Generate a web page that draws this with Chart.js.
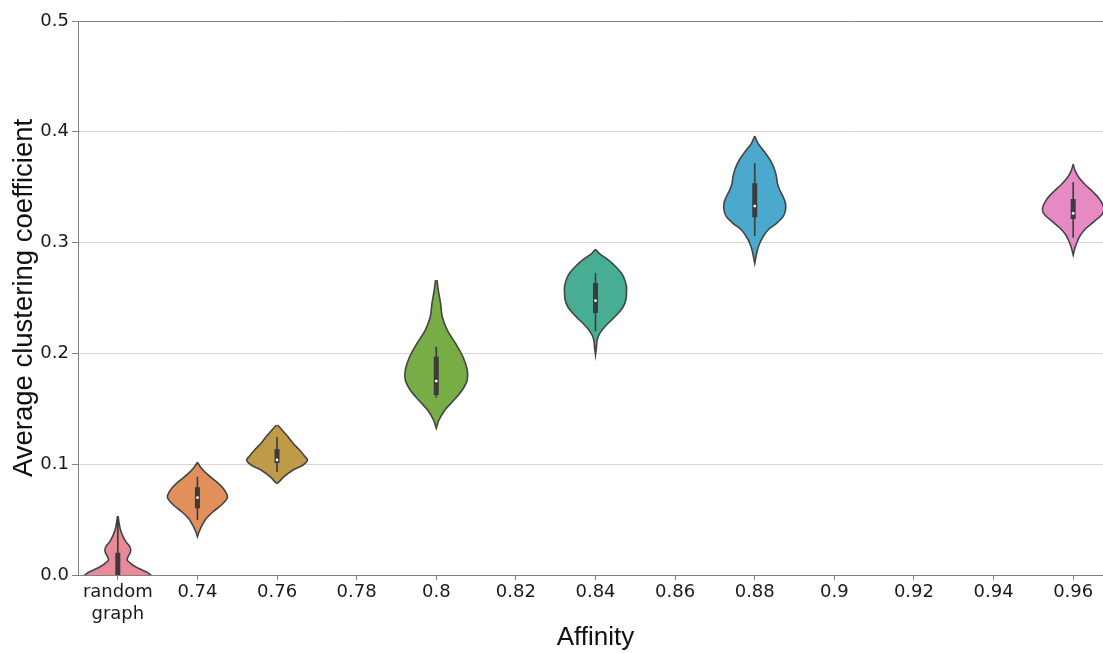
<!DOCTYPE html>
<html>
<head>
<meta charset="utf-8">
<title>Average clustering coefficient by affinity</title>
<script src="https://cdn.jsdelivr.net/npm/chart.js@4.4.1/dist/chart.umd.min.js"></script>
<style>
  html, body { margin: 0; padding: 0; background: #fff; overflow: hidden; }
  #wrap { width: 1120px; height: 653px; }
</style>
</head>
<body>
<div id="wrap"><canvas id="violinChart" width="1120" height="653"></canvas></div>
<script>
// x categories, the first one is the random graph baseline
const categories = [["random", "graph"], "0.74", "0.76", "0.78", "0.8", "0.82", "0.84", "0.86", "0.88", "0.9", "0.92", "0.94", "0.96"];
const yTicks = [0, 0.1, 0.2, 0.3, 0.4, 0.5];

// category slot of each violin + its fill colour
const violinSlots = [0, 1, 2, 4, 6, 8, 12];
const violinColors = ["#e88a98", "#e1905c", "#bf9b48", "#78ac44", "#47ae93", "#4ba9cd", "#e68ac3"];

// violin outlines, top to bottom: [value, half width in category units]
const profileRandom = [[0.0532, 0.004], [0.0467, 0.016], [0.0406, 0.034], [0.0346, 0.067], [0.0301, 0.100],
  [0.0255, 0.151], [0.0210, 0.160], [0.0165, 0.129], [0.0135, 0.117], [0.0106, 0.160], [0.0075, 0.222],
  [0.0045, 0.305], [0.0015, 0.389], [-0.003, 0.452], [-0.010, 0.490], [-0.020, 0.500]];
const profile074 = [[0.1017, 0], [0.0963, 0.050], [0.0903, 0.134], [0.0842, 0.239], [0.0782, 0.323],
  [0.0722, 0.373], [0.0692, 0.373], [0.0632, 0.302], [0.0571, 0.197], [0.0512, 0.113], [0.0451, 0.059],
  [0.0391, 0.021], [0.0346, 0]];
const profile076 = [[0.1354, 0.006], [0.1309, 0.063], [0.1248, 0.138], [0.1189, 0.201], [0.1128, 0.283],
  [0.1068, 0.352], [0.1038, 0.383], [0.0993, 0.327], [0.0948, 0.201], [0.0887, 0.088], [0.0828, 0.006]];
const profile080 = [[0.2662, 0.009], [0.2572, 0.025], [0.2452, 0.054], [0.2331, 0.075], [0.2211, 0.138],
  [0.2091, 0.242], [0.1970, 0.335], [0.1850, 0.389], [0.1760, 0.389], [0.1670, 0.327], [0.1579, 0.222],
  [0.1489, 0.109], [0.1399, 0.034], [0.1324, 0]];
const profile084 = [[0.2940, 0], [0.2903, 0.046], [0.2843, 0.160], [0.2782, 0.255], [0.2723, 0.327],
  [0.2662, 0.368], [0.2602, 0.389], [0.2542, 0.389], [0.2482, 0.381], [0.2421, 0.348], [0.2362, 0.285],
  [0.2301, 0.201], [0.2241, 0.117], [0.2181, 0.054], [0.2121, 0.021], [0.2061, 0.013], [0.1986, 0]];
const profile088 = [[0.3962, 0], [0.3896, 0.041], [0.3836, 0.104], [0.3775, 0.167], [0.3716, 0.217],
  [0.3655, 0.251], [0.3595, 0.273], [0.3535, 0.285], [0.3475, 0.314], [0.3414, 0.356], [0.3355, 0.386],
  [0.3294, 0.386], [0.3234, 0.356], [0.3174, 0.273], [0.3114, 0.167], [0.3053, 0.104], [0.2994, 0.063],
  [0.2933, 0.034], [0.2873, 0.016], [0.2813, 0]];
const profile096 = [[0.3707, 0], [0.3640, 0.029], [0.3580, 0.079], [0.3520, 0.155], [0.3459, 0.247],
  [0.3400, 0.323], [0.3339, 0.373], [0.3294, 0.386], [0.3249, 0.356], [0.3189, 0.260], [0.3129, 0.163],
  [0.3069, 0.092], [0.3008, 0.050], [0.2949, 0.021], [0.2888, 0]];
const profiles = [profileRandom, profile074, profile076, profile080, profile084, profile088, profile096];

// inner box plot per violin
const whiskerLow  = [0.000, 0.0496, 0.093, 0.160, 0.220, 0.306, 0.3044];
const quartile1   = [0.000, 0.0602, 0.101, 0.1625, 0.2365, 0.3228, 0.3213];
const medians     = [null, 0.0698, 0.1038, 0.175, 0.2476, 0.333, 0.3264];
const quartile3   = [0.020, 0.0792, 0.1137, 0.197, 0.2635, 0.3535, 0.3394];
const whiskerHigh = [0.049, 0.0887, 0.1245, 0.206, 0.2725, 0.3716, 0.3544];

(function(){
  const ctx = document.getElementById("violinChart");
  const edge = "#444444";
  const axisGrey = "#808080";

  function outline(slot, profile) {
    const right = profile.map(p => ({ x: slot + p[1], y: p[0] }));
    const left = profile.slice().reverse().map(p => ({ x: slot - p[1], y: p[0] }));
    return right.concat(left);
  }

  function vertical(lo, hi) {
    const pts = [];
    violinSlots.forEach((slot, i) => {
      pts.push({ x: slot, y: lo[i] }, { x: slot, y: hi[i] }, { x: slot, y: null });
    });
    return pts;
  }

  const datasets = [];

  datasets.push({
    label: "median",
    data: violinSlots.map((slot, i) => ({ x: slot, y: medians[i] })),
    showLine: false,
    pointRadius: 1.4,
    pointBackgroundColor: "#ffffff",
    pointBorderWidth: 0,
    order: 0
  });

  datasets.push({
    label: "iqr",
    data: vertical(quartile1, quartile3),
    borderColor: "#3b3b3b",
    borderWidth: 5,
    pointRadius: 0,
    spanGaps: false,
    clip: 0,
    order: 1
  });

  datasets.push({
    label: "whisker",
    data: vertical(whiskerLow, whiskerHigh),
    borderColor: "#3b3b3b",
    borderWidth: 1.6,
    pointRadius: 0,
    spanGaps: false,
    order: 2
  });

  profiles.forEach((profile, i) => {
    datasets.push({
      label: "violin " + i,
      data: outline(violinSlots[i], profile),
      borderColor: edge,
      borderWidth: 1.6,
      backgroundColor: violinColors[i],
      fill: "shape",
      tension: 0.3,
      pointRadius: 0,
      clip: 0,
      order: 3
    });
  });

  new Chart(ctx, {
    type: "line",
    data: { datasets: datasets },
    options: {
      responsive: false,
      animation: false,
      devicePixelRatio: 1,
      layout: { padding: { left: 0, right: 7, top: 21, bottom: 0 } },
      plugins: { legend: { display: false }, tooltip: { enabled: false } },
      scales: {
        x: {
          type: "linear",
          min: -0.5,
          max: categories.length - 0.5,
          z: 1,
          afterBuildTicks: s => { s.ticks = categories.map((c, i) => ({ value: i })); },
          afterFit: s => { s.height = 78; },
          grid: { drawOnChartArea: false, drawTicks: true, tickLength: 5, tickColor: axisGrey },
          border: { color: axisGrey, width: 1 },
          ticks: {
            autoSkip: false,
            maxRotation: 0,
            padding: 2,
            color: "#1a1a1a",
            font: { family: "DejaVu Sans", size: 18 },
            callback: (v, i) => categories[i]
          },
          title: {
            display: true,
            text: "Affinity",
            color: "#111",
            font: { family: "Liberation Sans", size: 26 },
            padding: { top: 0, bottom: 0 }
          }
        },
        y: {
          type: "linear",
          min: yTicks[0],
          max: yTicks[yTicks.length - 1],
          afterBuildTicks: s => { s.ticks = yTicks.map(v => ({ value: v })); },
          afterFit: s => { s.width = 78; },
          grid: {
            color: c => (c.tick && Math.abs(c.tick.value - 0.5) < 1e-6) ? axisGrey : "#d6d6d6",
            tickColor: axisGrey,
            tickLength: 6
          },
          border: { color: axisGrey, width: 1 },
          ticks: {
            padding: 3,
            color: "#1a1a1a",
            font: { family: "DejaVu Sans", size: 18 },
            callback: v => v.toFixed(1)
          },
          title: {
            display: true,
            text: "Average clustering coefficient",
            color: "#111",
            font: { family: "Liberation Sans", size: 27.5 },
            padding: { top: 8, bottom: 0 }
          }
        }
      }
    }
  });
})();
</script>
</body>
</html>
